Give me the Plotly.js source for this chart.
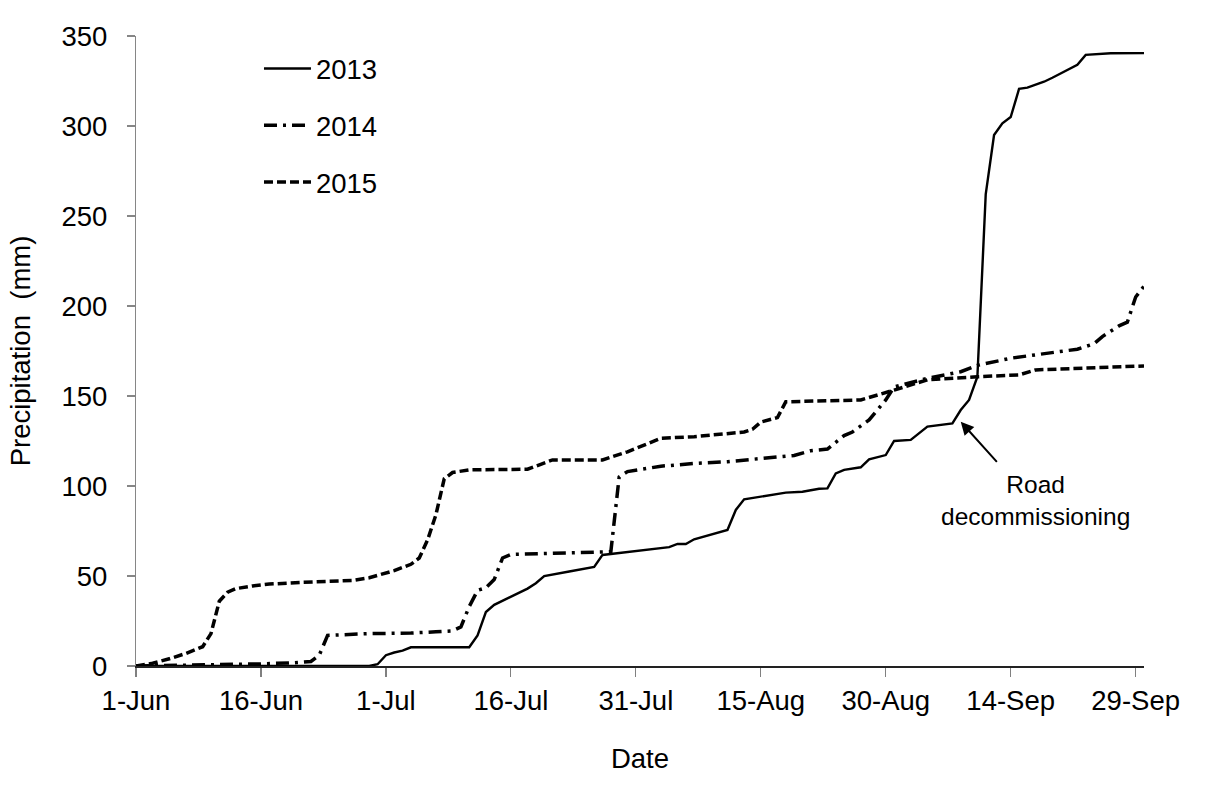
<!DOCTYPE html>
<html>
<head>
<meta charset="utf-8">
<script src="https://cdn.plot.ly/plotly-3.0.1.min.js"></script>
<style>html,body{margin:0;padding:0;background:#fff}#chart{width:1211px;height:789px}</style>
</head>
<body>
<div id="chart"></div>
<script>
// Days counted from 1 June; cumulative precipitation (mm)
const days2013 = [0, 28, 29, 30, 31, 32, 33, 40, 41, 42, 43, 45, 47, 48, 49, 52, 55, 56, 60, 64, 65, 66, 67, 69, 71, 72, 73, 78, 80, 82, 83, 84, 85, 87, 88, 90, 91, 93, 95, 98, 99, 100, 101, 102, 103, 104, 105, 106, 107, 109, 110, 113, 114, 117, 121];
const precip2013 = [0, 0, 1, 6, 7.5, 8.5, 10.4, 10.4, 17, 30, 34, 38.5, 43, 46, 50, 52.5, 55, 61.7, 64, 66, 67.8, 67.8, 70.4, 73, 75.6, 86.7, 92.6, 96.3, 96.8, 98.5, 98.7, 107, 109, 110.4, 114.8, 117.2, 125, 125.6, 133, 134.8, 142.2, 147.8, 160.7, 262, 295, 301.5, 305, 320.6, 321.3, 324.6, 326.8, 334, 339.5, 340.4, 340.5];

const days2014 = [0, 5, 10, 15, 19, 21, 22, 23, 28, 33, 36, 38, 39, 40, 41, 42, 43, 44, 45, 50, 55, 57, 58, 59, 63, 67, 71, 75, 79, 81, 83, 85, 86, 88, 90, 91, 95, 99, 101, 105, 110, 113, 115, 116, 118, 119, 120, 121];
const precip2014 = [0, 0.3, 0.8, 1.2, 1.8, 2.5, 6, 17, 18, 18.3, 19, 19.5, 21.7, 33, 42, 43.5, 48, 60, 62, 62.5, 63, 63.5, 105, 108, 111, 112.5, 113.5, 115.4, 117, 119.6, 120.5, 128, 130, 136.7, 147.8, 155, 159.8, 163.5, 167, 171, 174, 176, 179, 183, 189, 191, 205, 211];

const days2015 = [0, 2, 4, 6, 8, 9, 10, 11, 12, 14, 16, 20, 26, 28, 31, 33, 34, 35, 36, 37, 38, 40, 47, 49, 50, 56, 59, 63, 67, 73, 74, 75, 77, 78, 87, 91, 95, 101, 106, 108, 121];
const precip2015 = [0, 1.5, 4, 7, 10.7, 18, 36, 41, 43, 44.5, 45.5, 46.5, 47.5, 49, 53, 56.5, 60, 70, 84, 104, 107.5, 109, 109.3, 113, 114.5, 114.5, 119, 126.5, 127.4, 130, 131.5, 135.5, 138, 146.8, 147.8, 153.3, 159, 160.7, 161.7, 164.5, 166.7];

const seriesNames = ['2013', '2014', '2015'];
const xStart = '2013-06-01';
const xEnd = '2013-09-30';
const noteText = 'Road<br>decommissioning';

const DAY = 86400000;
const base = Date.UTC(2013, 5, 1);
function toDate(d) {
  return new Date(base + Math.round(d * 24) * 3600000).toISOString().slice(0, 16).replace('T', ' ');
}

const FONT = 'Liberation Sans, Arial, sans-serif';

const traces = [
  {x: days2013.map(toDate), y: precip2013, name: seriesNames[0], legendgroup: 'a',
   mode: 'lines', line: {color: '#000', width: 2.4, dash: 'solid'}},
  {x: days2014.map(toDate), y: precip2014, name: seriesNames[1], legendgroup: 'b',
   mode: 'lines', line: {color: '#000', width: 3.5, dash: '13px,6px,3px,6px'}},
  {x: days2015.map(toDate), y: precip2015, name: seriesNames[2], legendgroup: 'c',
   mode: 'lines', line: {color: '#000', width: 3.5, dash: '9px,4px'}}
];

const layout = {
  width: 1211, height: 789,
  margin: {l: 136, r: 67, t: 36, b: 123, pad: 0},
  paper_bgcolor: '#fff', plot_bgcolor: '#fff',
  font: {family: FONT, size: 27.5, color: '#000'},
  showlegend: true,
  legend: {
    x: 0.122, y: 0.987, xanchor: 'left', yanchor: 'top',
    bgcolor: 'rgba(0,0,0,0)', borderwidth: 0,
    font: {family: FONT, size: 27.5, color: '#000'},
    tracegroupgap: 18, itemwidth: 47
  },
  xaxis: {
    type: 'date',
    range: [xStart, xEnd],
    tick0: xStart, dtick: 15 * DAY,
    tickformat: '%-d-%b',
    showgrid: false, zeroline: false,
    showline: true, linecolor: '#222', linewidth: 1.5,
    ticks: 'outside', ticklen: 9, tickcolor: '#808080', tickwidth: 1.2,
    tickfont: {family: FONT, size: 27.5, color: '#000'},
    title: {text: 'Date', font: {family: FONT, size: 27.5, color: '#000'}, standoff: 34}
  },
  yaxis: {
    range: [0, 350],
    tick0: 0, dtick: 50,
    showgrid: false, zeroline: false,
    showline: true, linecolor: '#868686', linewidth: 1.2,
    ticks: 'outside', ticklen: 8, tickcolor: '#868686', tickwidth: 1.2,
    ticklabelstandoff: 14,
    tickfont: {family: FONT, size: 27.5, color: '#000'},
    title: {text: 'Precipitation\u00a0 (mm)', font: {family: FONT, size: 27.5, color: '#000'}, standoff: 22}
  },
  annotations: [
    {x: toDate(99), y: 135.7, ax: toDate(103.5), ay: 112.6, axref: 'x', ayref: 'y',
     xref: 'x', yref: 'y', text: '', showarrow: true,
     arrowhead: 2, arrowsize: 1.3, arrowwidth: 2, arrowcolor: '#000'},
    {x: toDate(107.9), y: 92, xref: 'x', yref: 'y', text: noteText, showarrow: false,
     xanchor: 'center', yanchor: 'middle', align: 'center',
     font: {family: FONT, size: 24.5, color: '#000'}}
  ]
};

Plotly.newPlot('chart', traces, layout, {displayModeBar: false, staticPlot: true});
</script>
</body>
</html>
